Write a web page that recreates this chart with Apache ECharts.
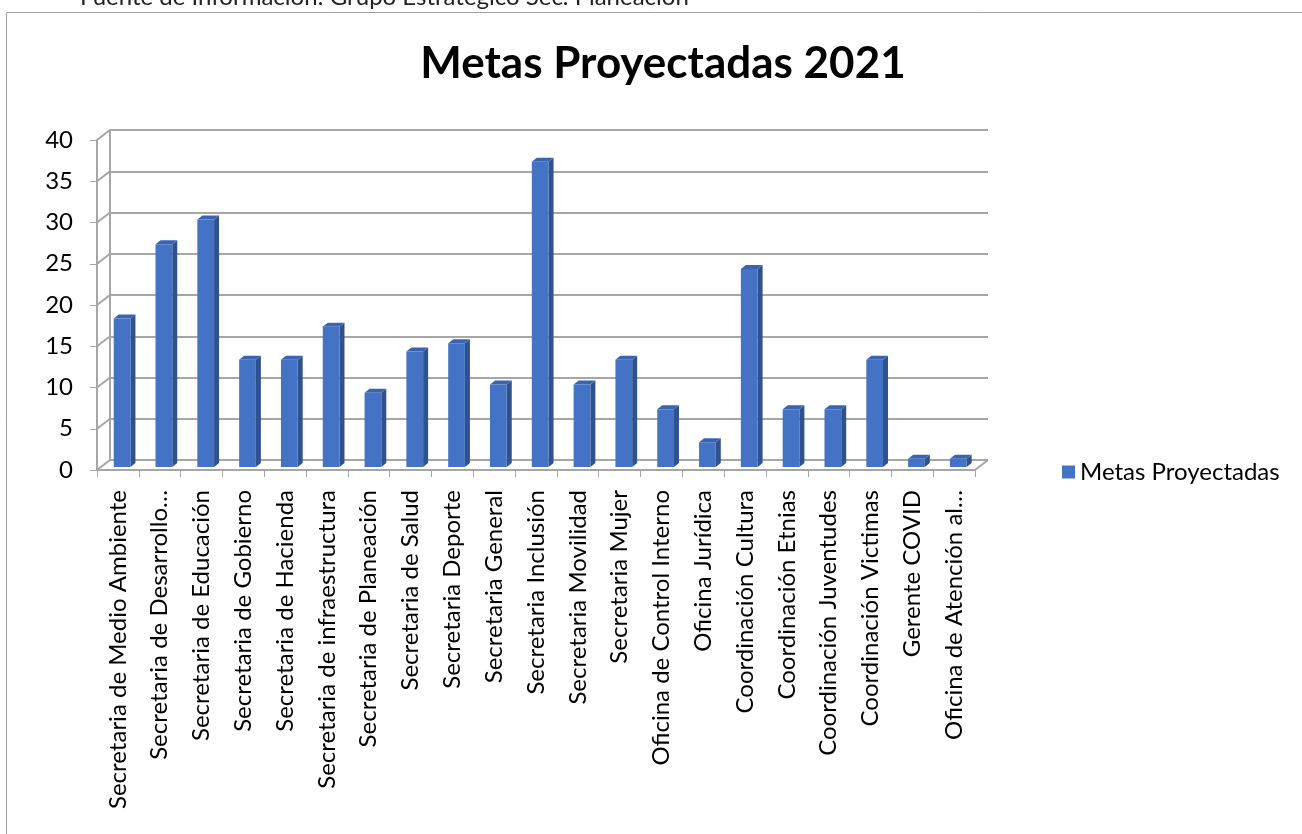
<!DOCTYPE html>
<html>
<head>
<meta charset="utf-8">
<title>Metas Proyectadas 2021</title>
<script src="https://cdn.jsdelivr.net/npm/echarts@6/dist/echarts.min.js"></script>
<style>
  html, body { margin: 0; padding: 0; background: #fff; }
  #chart { width: 1302px; height: 834px; }
</style>
</head>
<body>
<div id="chart"></div>
<script>
const categories = [
  'Secretaria de Medio Ambiente',
  'Secretaria de Desarrollo…',
  'Secretaria de Educación',
  'Secretaria de Gobierno',
  'Secretaria de Hacienda',
  'Secretaria de infraestructura',
  'Secretaria de Planeación',
  'Secretaria de Salud',
  'Secretaria Deporte',
  'Secretaria General',
  'Secretaria Inclusión',
  'Secretaria Movilidad',
  'Secretaria Mujer',
  'Oficina de Control Interno',
  'Oficina Jurídica',
  'Coordinación Cultura',
  'Coordinación Etnias',
  'Coordinación Juventudes',
  'Coordinación Victimas',
  'Gerente COVID',
  'Oficina de Atención al…'
]
const metas = [18, 27, 30, 13, 13, 17, 9, 14, 15, 10, 37, 10, 13, 7, 3, 24, 7, 7, 13, 1, 1]
const yTicks = [0, 5, 10, 15, 20, 25, 30, 35, 40]

const FONT = 'Lato, "Open Sans", sans-serif'
const LINE = '#a6a6a6'
// depth of the 3D box (back wall offset from the front axes)
const DEPTH = [13, -10]

const chart = echarts.init(document.getElementById('chart'))

// left wall / floor edges: diagonal from front axis to back wall at each tick
const renderWall = (params, api) => {
  const v = api.value(0)
  const band = api.size([1, 0])[0]
  const p = api.coord([0, v])
  const x = p[0] - band / 2
  const children = [{
    type: 'line',
    shape: { x1: x, y1: p[1], x2: x + DEPTH[0], y2: p[1] + DEPTH[1] },
    style: { stroke: LINE, lineWidth: 2 }
  }]
  if (v === 0) {
    const q = api.coord([categories.length - 1, 0])
    const xr = q[0] + band / 2
    children.push({
      type: 'line',
      shape: { x1: xr, y1: q[1], x2: xr + DEPTH[0], y2: q[1] + DEPTH[1] },
      style: { stroke: LINE, lineWidth: 2 }
    })
  }
  return { type: 'group', children }
}

const renderBar = (params, api) => {
  const i = api.value(0)
  const v = api.value(1)
  const band = api.size([1, 0])[0]
  const base = api.coord([i, 0])
  const top = api.coord([i, v])
  const w = band * 0.4
  const x0 = base[0] - band * 0.1
  const y0 = base[1] - 3
  const y1 = top[1] - 3
  const dx = 5, dy = 4
  return {
    type: 'group',
    children: [
      {
        type: 'polygon',
        shape: { points: [[x0 + w, y1], [x0 + w + dx, y1 - dy], [x0 + w + dx, y0 - dy], [x0 + w, y0]] },
        style: { fill: '#2f528f' }
      },
      {
        type: 'polygon',
        shape: { points: [[x0, y1], [x0 + dx, y1 - dy], [x0 + w + dx, y1 - dy], [x0 + w, y1]] },
        style: { fill: '#3a64b0' }
      },
      {
        type: 'rect',
        shape: { x: x0, y: y1, width: w, height: y0 - y1 },
        style: { fill: '#4472c4' }
      }
    ]
  }
}

const option = {
  animation: false,
  title: {
    text: 'Metas Proyectadas 2021',
    left: 658,
    top: 37,
    textAlign: 'center',
    textStyle: { fontFamily: FONT, fontSize: 44, fontWeight: 'bold', color: '#000' }
  },
  legend: {
    left: 1057,
    top: 455,
    icon: 'rect',
    itemWidth: 13,
    itemHeight: 13,
    itemGap: 7,
    textStyle: { fontFamily: FONT, fontSize: 24, color: '#000' },
    data: ['Metas Proyectadas']
  },
  graphic: [
    {
      type: 'rect',
      shape: { x: 6.5, y: 12.5, width: 1400, height: 900 },
      style: { fill: null, stroke: '#a0a0a0', lineWidth: 1 },
      silent: true
    },
    {
      type: 'text',
      left: 80,
      top: -15,
      style: {
        text: 'Fuente de Información: Grupo Estratégico Sec. Planeación',
        fontFamily: FONT,
        fontSize: 24,
        fill: '#222'
      }
    }
  ],
  grid: [
    { left: 97, top: 140, width: 878, height: 330 },
    { left: 97 + DEPTH[0], top: 140 + DEPTH[1], width: 878, height: 330 }
  ],
  xAxis: [
    {
      type: 'category',
      gridIndex: 0,
      data: categories,
      boundaryGap: true,
      axisLine: { lineStyle: { color: LINE, width: 2 } },
      axisTick: { show: true, length: 7, lineStyle: { color: LINE } },
      axisLabel: {
        rotate: 90,
        interval: 0,
        margin: 20,
        fontFamily: FONT,
        fontSize: 24,
        color: '#000'
      }
    },
    {
      type: 'category',
      gridIndex: 1,
      data: categories,
      show: false
    }
  ],
  yAxis: [
    {
      type: 'value',
      gridIndex: 0,
      min: 0,
      max: 40,
      interval: 5,
      axisLine: { show: true, lineStyle: { color: LINE, width: 2 } },
      axisTick: { show: true, length: 7, lineStyle: { color: LINE } },
      splitLine: { show: false },
      axisLabel: { margin: 24, fontFamily: FONT, fontSize: 24, color: '#000' }
    },
    {
      type: 'value',
      gridIndex: 1,
      min: 0,
      max: 40,
      interval: 5,
      axisLine: { show: true, lineStyle: { color: LINE, width: 2 } },
      axisTick: { show: false },
      axisLabel: { show: false },
      splitLine: { show: true, lineStyle: { color: LINE, width: 2 } }
    }
  ],
  series: [
    {
      name: 'wall',
      type: 'custom',
      xAxisIndex: 0,
      yAxisIndex: 0,
      silent: true,
      renderItem: renderWall,
      encode: { x: -1, y: 0 },
      data: yTicks.map(v => [v])
    },
    {
      name: 'Metas Proyectadas',
      type: 'custom',
      xAxisIndex: 0,
      yAxisIndex: 0,
      itemStyle: { color: '#4472c4' },
      renderItem: renderBar,
      encode: { x: 0, y: 1 },
      data: metas.map((v, i) => [i, v]),
      z: 5
    }
  ]
}

chart.setOption(option)
window.addEventListener('resize', () => chart.resize())
</script>
</body>
</html>
